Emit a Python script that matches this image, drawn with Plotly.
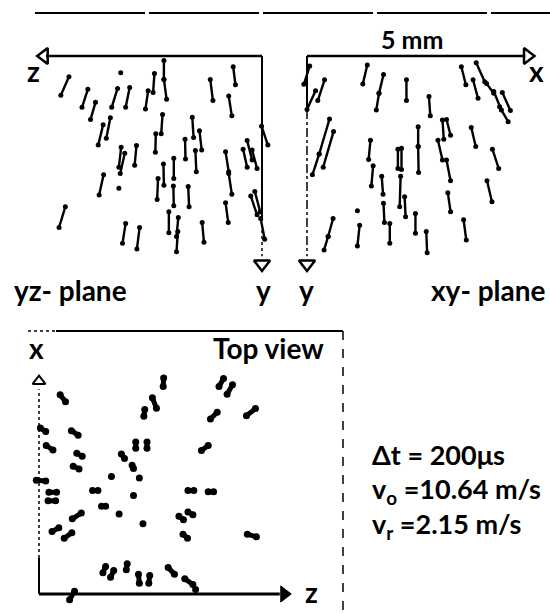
import plotly.graph_objects as go

W, H = 550, 613
PX_PER_MM = 45.0

# ---------------- data (mm) ----------------
# yz-plane tracks: start (z, y) -> end (z, y)
yz_z0 = [4.29, 3.87, 3.70, 3.21, 2.94, 2.53, 2.39, 2.18, 2.18, 1.15, 0.64, 0.74, 0.01, 3.37, 3.53, 2.21, 2.36,
         1.55, 1.39, 1.71, 1.48, 2.79, 3.13, 3.05, 3.52, 1.96, 2.19, 2.31, 1.97, 1.64, 0.81, 0.74, 0.42, 0.33,
         0.22, 0.81, 0.25, 0.16, 0.03, 4.37, 3.03, 2.72, 2.07, 1.86, 1.87, 1.33]
yz_y0 = [0.46, 0.74, 1.03, 0.72, 0.70, 0.77, 0.39, 0.10, 0.52, 0.52, 0.24, 0.89, 1.56, 1.37, 1.53, 1.30, 1.73,
         1.36, 1.66, 1.85, 2.10, 1.99, 2.03, 2.16, 2.64, 2.27, 2.40, 2.72, 2.89, 2.90, 2.13, 2.61, 2.07, 1.88,
         2.09, 3.26, 3.11, 3.01, 3.61, 3.35, 3.72, 3.81, 3.46, 3.59, 3.90, 3.70]
yz_z1 = [4.47, 4.00, 3.81, 3.34, 3.03, 2.59, 2.42, 2.18, 2.12, 1.09, 0.59, 0.67, -0.13, 3.46, 3.64, 2.24, 2.37,
         1.52, 1.34, 1.70, 1.46, 2.83, 3.18, 3.15, 3.62, 1.96, 2.18, 2.33, 1.96, 1.62, 0.74, 0.67, 0.33, 0.22,
         0.11, 0.75, 0.11, 0.04, -0.06, 4.51, 3.10, 2.78, 2.07, 1.90, 1.90, 1.29]
yz_y1 = [0.87, 1.14, 1.41, 1.14, 1.14, 1.18, 0.81, 0.52, 0.96, 0.99, 0.64, 1.33, 1.98, 1.83, 1.98, 1.73, 2.14,
         1.81, 2.09, 2.29, 2.57, 2.43, 2.47, 2.61, 3.09, 2.72, 2.87, 3.19, 3.33, 3.35, 2.57, 3.07, 2.47, 2.31,
         2.50, 3.70, 3.53, 3.46, 4.07, 3.81, 4.16, 4.29, 3.93, 4.01, 4.35, 4.14]
yz_dot_z = [3.14, 3.18]
yz_dot_y = [0.37, 2.94]

# xy-plane tracks: start (x, y) -> end (x, y)
xy_x0 = [0.06, 0.39, 0.19, 1.34, 1.70, 1.60, 2.21, 2.71, 3.43, 3.76, 3.69, 3.99, 4.15, 4.34, 4.28, 0.50, 0.27,
         0.59, 3.01, 3.10, 2.47, 2.47, 3.65, 1.41, 2.91, 3.10, 2.10, 2.02, 4.12, 1.47, 1.66, 1.70, 2.08, 2.17,
         3.13, 4.00, 2.41, 1.84, 2.65, 3.48, 0.58, 0.47, 1.17]
xy_y0 = [0.22, 0.53, 0.77, 0.20, 0.41, 0.83, 0.53, 0.90, 0.24, 0.15, 0.53, 0.61, 0.79, 0.81, 1.13, 1.40, 2.18,
         1.68, 1.42, 1.41, 1.57, 2.01, 1.59, 1.87, 1.87, 2.31, 2.05, 2.07, 2.07, 2.44, 2.67, 3.27, 2.67, 3.13,
         3.04, 2.77, 3.50, 3.72, 3.90, 3.64, 3.61, 4.01, 3.76]
xy_x1 = [-0.07, 0.24, 0.00, 1.24, 1.60, 1.54, 2.21, 2.74, 3.53, 3.95, 3.80, 4.15, 4.32, 4.52, 4.47, 0.27, 0.12,
         0.36, 3.04, 3.19, 2.47, 2.48, 3.75, 1.37, 3.01, 3.19, 2.10, 2.02, 4.26, 1.43, 1.69, 1.72, 2.06, 2.19,
         3.19, 4.11, 2.41, 1.84, 2.67, 3.54, 0.47, 0.38, 1.12]
xy_y1 = [0.63, 0.99, 1.19, 0.62, 0.83, 1.20, 0.99, 1.33, 0.64, 0.57, 0.94, 0.83, 1.20, 1.21, 1.46, 2.18, 2.64,
         2.47, 1.85, 1.76, 2.01, 2.59, 2.01, 2.30, 2.31, 2.77, 2.52, 2.50, 2.50, 2.89, 3.07, 3.70, 3.35, 3.57,
         3.46, 3.24, 3.94, 4.16, 4.37, 4.09, 4.01, 4.31, 4.22]
xy_dot_x = [1.12]
xy_dot_y = [3.44]

# top view tracks: start (z, x) -> end (z, x)
tv_z0 = [0.47, 2.77, 4.10, 4.30, 2.52, 2.35, 3.96, 4.81, 0.03, 0.72, 2.15, 2.40, 3.76, 0.16, 0.84, 1.83, 0.76,
         2.07, -0.06, 0.22, 0.20, 1.19, 3.31, 3.76, 1.39, 0.74, 3.11, 3.31, 0.29, 0.56, 3.20, 4.63, 1.48, 1.66,
         1.96, 2.21, 2.46, 2.87, 3.24, 0.79]
tv_x0 = [4.43, 4.80, 4.79, 4.65, 4.36, 4.10, 4.04, 4.12, 3.69, 3.63, 3.38, 3.38, 3.30, 3.30, 3.13, 3.11, 2.84,
         2.86, 2.53, 2.26, 2.07, 2.30, 2.30, 2.27, 1.95, 1.67, 1.73, 1.82, 1.39, 1.24, 1.33, 1.33, 0.61, 0.52,
         0.67, 0.44, 0.41, 0.59, 0.34, 0.06]
tv_z1 = [0.59, 2.76, 4.00, 4.18, 2.61, 2.33, 3.81, 4.61, 0.15, 0.87, 2.15, 2.40, 3.61, 0.31, 0.96, 1.90, 0.89,
         2.10, 0.15, 0.39, 0.37, 1.31, 3.44, 3.88, 1.48, 0.94, 3.21, 3.42, 0.44, 0.73, 3.30, 4.83, 1.42, 1.59,
         1.94, 2.23, 2.44, 3.01, 3.42, 0.68]
tv_x1 = [4.27, 4.61, 4.61, 4.44, 4.13, 3.95, 3.89, 3.96, 3.61, 3.53, 3.24, 3.24, 3.19, 3.20, 3.06, 3.01, 2.78,
         2.79, 2.51, 2.26, 2.07, 2.30, 2.30, 2.27, 1.95, 1.80, 1.65, 1.76, 1.47, 1.36, 1.24, 1.27, 0.47, 0.37,
         0.54, 0.24, 0.24, 0.44, 0.21, -0.13]
tv_dot_z = [1.61, 2.23, 2.10, 1.78, 2.31, 3.48]
tv_dot_x = [2.61, 2.58, 2.19, 1.78, 1.56, 0.10]

FONT = "Lato"
INK = "#000000"


# ---------------- helpers ----------------
def segs(a0, b0, a1, b1):
    xs, ys = [], []
    for p, q, r, s in zip(a0, b0, a1, b1):
        xs += [p, r, None]
        ys += [q, s, None]
    return xs, ys


def panel_axes(box, origin, hsign, vsign):
    left, top, right, bottom = box
    ox, oy = origin
    xr = [hsign * (left - ox) / PX_PER_MM, hsign * (right - ox) / PX_PER_MM]
    yr = [vsign * (bottom - oy) / PX_PER_MM, vsign * (top - oy) / PX_PER_MM]
    common = dict(visible=False, showgrid=False, zeroline=False, fixedrange=True)
    xa = dict(range=xr, domain=[left / W, right / W], **common)
    ya = dict(range=yr, domain=[1 - bottom / H, 1 - top / H], **common)
    return xa, ya


fig = go.Figure()


def add_tracks(xs0, ys0, xs1, ys1, dx, dy, ax, lw, ms):
    sx, sy = segs(xs0, ys0, xs1, ys1)
    fig.add_trace(go.Scatter(x=sx, y=sy, mode="lines", line=dict(color=INK, width=lw),
                             xaxis=ax[0], yaxis=ax[1], hoverinfo="skip"))
    fig.add_trace(go.Scatter(x=list(xs0) + list(xs1) + list(dx), y=list(ys0) + list(ys1) + list(dy),
                             mode="markers", marker=dict(color=INK, size=ms),
                             xaxis=ax[0], yaxis=ax[1], hoverinfo="skip"))


def add_line(x, y, ax, width=2.5, dash="solid"):
    fig.add_trace(go.Scatter(x=x, y=y, mode="lines", line=dict(color=INK, width=width, dash=dash),
                             xaxis=ax[0], yaxis=ax[1], hoverinfo="skip"))


def add_head(x, y, symbol, ax, size=14, lw=2.5):
    fig.add_trace(go.Scatter(x=[x], y=[y], mode="markers",
                             marker=dict(symbol=symbol, size=size, color=INK, line=dict(color=INK, width=lw)),
                             xaxis=ax[0], yaxis=ax[1], hoverinfo="skip"))


A1, A2, A3 = ("x", "y"), ("x2", "y2"), ("x3", "y3")

# yz-plane
add_line([0, 4.8], [0, 0], A1, 2.5)
add_line([0, 0], [0, 3.6], A1, 2)
add_line([0, 0], [3.6, 4.45], A1, 1.5, "dot")
add_head(4.84, 0, "triangle-left-open", A1)
add_head(0, 4.62, "triangle-down-open", A1)
add_tracks(yz_z0, yz_y0, yz_z1, yz_y1, yz_dot_z, yz_dot_y, A1, 2.4, 5)

# xy-plane
add_line([0, 4.85], [0, 0], A2, 2.5)
add_line([0, 0], [0, 1.2], A2, 2)
add_line([0, 0], [1.2, 4.45], A2, 1.5, "dashdot")
add_head(4.9, 0, "triangle-right-open", A2)
add_head(0, 4.62, "triangle-down-open", A2)
add_tracks(xy_x0, xy_y0, xy_x1, xy_y1, xy_dot_x, xy_dot_y, A2, 2.4, 5)

# top view
add_line([0, 5.35], [0, 0], A3, 3)
add_line([0, 0], [0, 0.8], A3, 2)
add_line([0, 0], [0.8, 4.55], A3, 1.5, "dot")
add_head(5.45, 0, "triangle-right", A3, 14, 1)
add_head(0, 4.73, "triangle-up-open", A3, 11, 2)
add_tracks(tv_z0, tv_x0, tv_z1, tv_x1, tv_dot_z, tv_dot_x, A3, 5, 7)

xa1, ya1 = panel_axes((15, 40, 282, 282), (262, 56), -1, 1)
xa2, ya2 = panel_axes((285, 40, 550, 282), (307, 56), 1, 1)
xa3, ya3 = panel_axes((10, 318, 360, 613), (39, 594), 1, -1)


def P(px, py):
    return px / W, 1 - py / H


def label(text, px, py, size=28, xanchor="center"):
    x, y = P(px, py)
    return dict(text=text, x=x, y=y, xref="paper", yref="paper", xanchor=xanchor, yanchor="middle",
                showarrow=False, font=dict(family=FONT, size=size, color=INK, weight=700))


annotations = [
    label("z", 33, 71),
    label("x", 536, 71),
    label("5 mm", 412, 39, 25),
    label("yz- plane", 12, 290, 28, "left"),
    label("y", 263, 290),
    label("y", 306, 290),
    label("xy- plane", 547, 290, 28, "right"),
    label("x", 36, 348),
    label("Top view", 326, 348, 28, "right"),
    label("z", 311, 592),
    label("Δt = 200μs", 370, 455, 27, "left"),
    label("v<sub>o</sub> =10.64 m/s", 370, 490, 27, "left"),
    label("v<sub>r</sub> =2.15 m/s", 370, 525, 27, "left"),
]


def hline(x0, x1, y, width=2, dash="solid"):
    a, b = P(x0, y)
    c, _ = P(x1, y)
    return dict(type="line", xref="paper", yref="paper", x0=a, x1=c, y0=b, y1=b,
                line=dict(color=INK, width=width, dash=dash))


def vline(x, y0, y1, width=2, dash="solid"):
    a, b = P(x, y0)
    _, d = P(x, y1)
    return dict(type="line", xref="paper", yref="paper", x0=a, x1=a, y0=b, y1=d,
                line=dict(color=INK, width=width, dash=dash))


shapes = [
    hline(35, 550, 13, 2, "110px,4px"),
    hline(28, 56, 331, 1.5, "dot"),
    hline(56, 343, 331, 2),
    vline(343, 331, 613, 1.5, "dash"),
]

fig.update_layout(
    width=W, height=H, margin=dict(l=0, r=0, t=0, b=0),
    paper_bgcolor="white", plot_bgcolor="rgba(0,0,0,0)",
    showlegend=False, hovermode=False,
    xaxis=dict(anchor="y", **xa1), yaxis=dict(anchor="x", **ya1),
    xaxis2=dict(anchor="y2", **xa2), yaxis2=dict(anchor="x2", **ya2),
    xaxis3=dict(anchor="y3", **xa3), yaxis3=dict(anchor="x3", **ya3),
    annotations=annotations, shapes=shapes,
)

fig.write_html(
    "out.html",
    config={"displayModeBar": False, "staticPlot": True},
    post_script="document.body.style.margin='0';document.body.style.overflow='hidden';",
)
